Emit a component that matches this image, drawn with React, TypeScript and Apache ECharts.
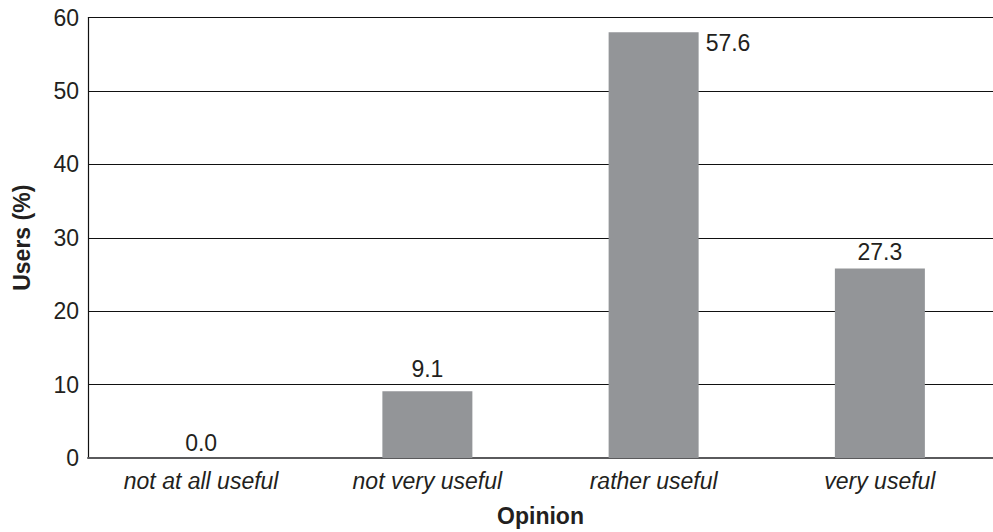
import React, { useEffect, useRef } from "react";
import * as echarts from "echarts";

const categories = ["not at all useful", "not very useful", "rather useful", "very useful"];
// bar heights as drawn in the reference
const barValues = [0, 9.1, 58.0, 25.8];
// value labels as printed in the reference
const valueLabels = ["0.0", "9.1", "57.6", "27.3"];
const yTicks = { min: 0, max: 60, interval: 10 };

const FONT = "'Liberation Sans', Arial, Helvetica, sans-serif";
const TEXT = "#231f20";

export default function App() {
  const ref = useRef<HTMLDivElement>(null);
  useEffect(() => {
    if (!ref.current) return;
    const chart = echarts.init(ref.current, null, { renderer: "svg" });
    const labelCfg = [
      { position: "top", distance: 4 },
      { position: "top", distance: 11 },
      { position: ["100%", 0], offset: [7, -1], align: "left", verticalAlign: "top" },
      { position: "top", distance: 5 },
    ];
    chart.setOption({
      animation: false,
      textStyle: { fontFamily: FONT },
      grid: { left: 88, right: -8, top: 17.5, bottom: 70, containLabel: false },
      xAxis: {
        type: "category",
        data: categories,
        name: "Opinion",
        nameLocation: "middle",
        nameGap: 46,
        nameTextStyle: { fontSize: 23, fontWeight: "bold", color: TEXT, fontFamily: FONT },
        axisLine: { show: true, lineStyle: { color: "#5a5a5c", width: 2 } },
        axisTick: { show: false },
        axisLabel: { fontSize: 23, fontStyle: "italic", color: TEXT, margin: 11, fontFamily: FONT },
        splitLine: { show: false },
      },
      yAxis: {
        type: "value",
        min: yTicks.min,
        max: yTicks.max,
        interval: yTicks.interval,
        name: "Users (%)",
        nameLocation: "middle",
        nameGap: 55,
        nameTextStyle: { fontSize: 23, fontWeight: "bold", color: TEXT, fontFamily: FONT },
        axisLine: { show: true, lineStyle: { color: "#111", width: 1.2 } },
        axisTick: { show: false },
        axisLabel: { fontSize: 23, color: TEXT, margin: 9, fontFamily: FONT },
        splitLine: { show: true, lineStyle: { color: "#111", width: 1.2 } },
      },
      series: [
        {
          type: "bar",
          barWidth: 90,
          itemStyle: { color: "#939598" },
          data: barValues.map((v, i) => ({
            value: v,
            label: {
              show: true,
              formatter: valueLabels[i],
              fontSize: 23,
              color: TEXT,
              fontFamily: FONT,
              ...labelCfg[i],
            },
          })),
        },
      ],
    });
    return () => chart.dispose();
  }, []);
  return (
    <div
      ref={ref}
      style={{ position: "fixed", left: 0, top: 0, width: 993, height: 532, background: "#fff" }}
    />
  );
}
